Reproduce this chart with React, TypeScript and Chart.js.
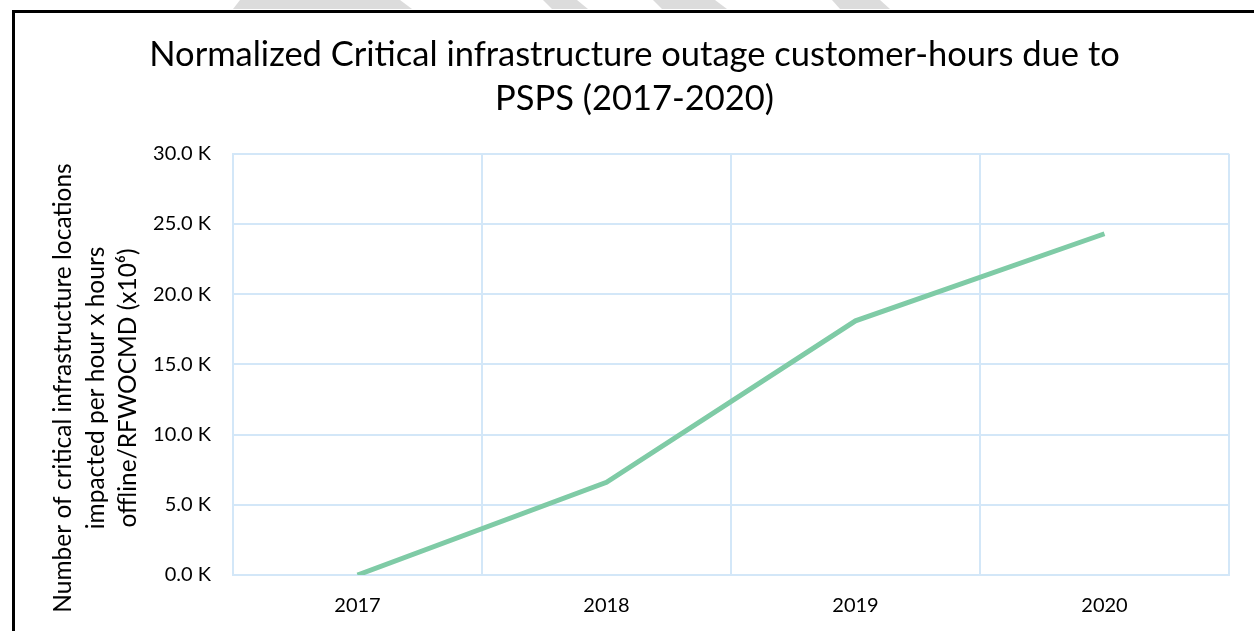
import React, { useEffect, useRef } from "react";
import { Chart, registerables } from "chart.js";

Chart.register(...registerables);

const years = ["2017", "2018", "2019", "2020"];
const customerHours = [0, 6600, 18100, 24300];
const titleLines = ["Normalized Critical infrastructure outage customer-hours due to", "PSPS (2017-2020)"];
const yTitleLines = [
  "Number of critical infrastructure locations",
  "impacted per hour x hours",
  "offline/RFWOCMD (x10\u2076)",
];

const FONT = "Lato, 'Open Sans', sans-serif";

const yTitlePlugin = {
  id: "yTitle",
  afterDraw(chart: any) {
    const ctx = chart.ctx;
    ctx.save();
    ctx.translate(96, 388);
    ctx.rotate(-Math.PI / 2);
    ctx.fillStyle = "#000";
    ctx.font = `24.5px ${FONT}`;
    ctx.textAlign = "center";
    ctx.textBaseline = "middle";
    yTitleLines.forEach((t, i) => ctx.fillText(t, 0, (i - 1) * 32.5));
    ctx.restore();
  },
};

export default function App() {
  const ref = useRef<HTMLCanvasElement>(null);
  useEffect(() => {
    if (!ref.current) return;
    const chart = new Chart(ref.current, {
      type: "line",
      data: {
        labels: years,
        datasets: [
          {
            data: customerHours,
            borderColor: "#7fcba6",
            borderWidth: 5,
            pointRadius: 0,
            tension: 0,
            fill: false,
          },
        ],
      },
      options: {
        animation: false,
        responsive: false,
        layout: { padding: { left: 20, right: 5, top: 32, bottom: 0 } },
        plugins: {
          legend: { display: false },
          tooltip: { enabled: false },
          title: {
            display: true,
            text: titleLines,
            color: "#000",
            font: { family: FONT, size: 34.5, weight: "normal", lineHeight: 1.3 },
            padding: { top: 0, bottom: 32 },
          },
        },
        scales: {
          x: {
            offset: true,
            grid: { offset: true, color: "#d3e7f8", lineWidth: 2, drawTicks: false },
            border: { color: "#d3e7f8", width: 2 },
            ticks: { color: "#000", font: { family: FONT, size: 20 }, padding: 19 },
            afterFit(scale: any) {
              scale.height = 56;
            },
          },
          y: {
            min: 0,
            max: 30000,
            grid: { color: "#d3e7f8", lineWidth: 2, drawTicks: false },
            border: { color: "#d3e7f8", width: 2 },
            ticks: {
              stepSize: 5000,
              color: "#000",
              font: { family: FONT, size: 20 },
              padding: 22,
              callback: (v: any) => (Number(v) / 1000).toFixed(1) + " K",
            },
            afterFit(scale: any) {
              scale.width = 213;
            },
          },
          yRightSpace: {
            position: "right",
            display: true,
            grid: { display: false },
            border: { display: false },
            ticks: { display: false },
            afterFit(scale: any) {
              scale.width = 20;
            },
          },
        },
      },
      plugins: [yTitlePlugin],
    });
    return () => chart.destroy();
  }, []);
  const stripes = [
    "240px 0, 400px 0, 412px 9px, 233px 9px",
    "543px 0, 577px 0, 588px 9px, 552px 9px",
    "653px 0, 715px 0, 727px 9px, 662px 9px",
    "832px 0, 880px 0, 890px 9px, 840px 9px",
  ];
  return (
    <div style={{ position: "fixed", left: 0, top: 0, width: 1254, height: 631, background: "#fff", overflow: "hidden" }}>
      {stripes.map((p, i) => (
        <div
          key={i}
          style={{
            position: "absolute",
            left: 0,
            top: 0,
            width: 1254,
            height: 12,
            background: "#dcdcdc",
            clipPath: `polygon(${p})`,
          }}
        />
      ))}
      <canvas ref={ref} width={1254} height={631} style={{ position: "absolute", left: 0, top: 0 }} />
      <div
        style={{
          position: "absolute",
          left: 12,
          top: 10,
          width: 1400,
          height: 800,
          borderLeft: "3px solid #000",
          borderTop: "3px solid #000",
          pointerEvents: "none",
        }}
      />
    </div>
  );
}
